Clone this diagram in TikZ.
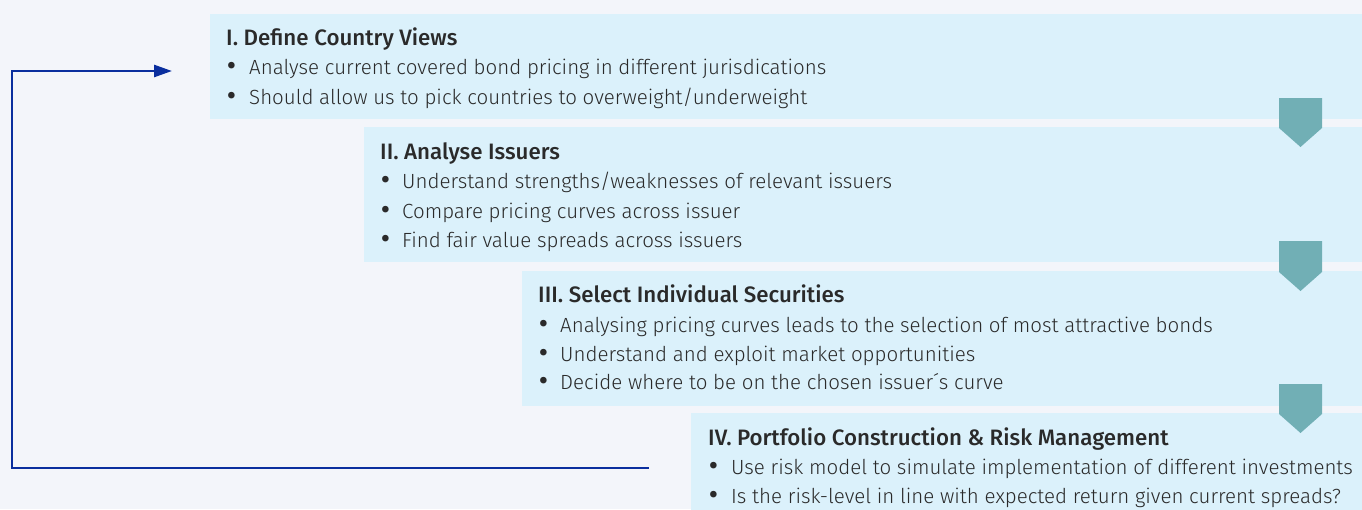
\documentclass[tikz,border=0pt]{standalone}
\usepackage{fontspec}
\IfFontExistsTF{Fira Sans Light}{%
  \setmainfont{Fira Sans Light}[BoldFont={Fira Sans Medium}]%
}{%
  \setmainfont{Fira Sans}%
}
\usetikzlibrary{arrows.meta}
\definecolor{bgc}{HTML}{F3F5FA}
\definecolor{boxc}{HTML}{DBF1FB}
\definecolor{tealc}{HTML}{71AFB5}
\definecolor{linec}{HTML}{0A2E9E}
\definecolor{txtc}{HTML}{2A2A2A}
\tikzset{
  stagebox/.style={fill=boxc, draw=none, minimum width=#1, inner sep=0pt, anchor=north west},
  ttl/.style={anchor=base west, inner sep=0pt, font=\fontsize{22.3}{24}\selectfont\bfseries, text=txtc},
  itm/.style={anchor=base west, inner sep=0pt, font=\fontsize{20.5}{22}\selectfont, text=txtc},
  dot/.style={anchor=base, inner sep=0pt, font=\fontsize{26}{28}\selectfont\bfseries, text=txtc},
  pent/.style={fill=tealc, draw=none},
  loopline/.style={draw=linec, line width=2.6pt, -{Triangle[length=18pt,width=12pt]}}
}
\begin{document}
\begin{tikzpicture}[x=1pt,y=-1pt]
\useasboundingbox (0,0) rectangle (1362,509);
\fill[bgc] (0,0) rectangle (1362,509);
% boxes
\node[stagebox=1152, minimum height=105] (b1) at (210,14) {};
\node[stagebox=998, minimum height=135] (b2) at (364,127) {};
\node[stagebox=840, minimum height=135] (b3) at (522,271) {};
\node[stagebox=671, minimum height=100] (b4) at (691,413) {};
% down arrows
\fill[pent] (1279,98) -- (1322,98) -- (1322,128) -- (1300.5,147) -- (1279,128) -- cycle;
\fill[pent] (1279,241) -- (1322,241) -- (1322,272) -- (1300.5,291) -- (1279,272) -- cycle;
\fill[pent] (1279,384) -- (1322,384) -- (1322,414) -- (1300.5,433) -- (1279,414) -- cycle;
% texts box I
\node[ttl] (t1) at (226,45) {I. Define Country Views};
\node[dot] (d11) at (231.5,74) {•};
\node[itm] (i11) at (249,74) {Analyse current covered bond pricing in different jurisdications};
\node[dot] (d12) at (231.5,104) {•};
\node[itm] (i12) at (249,104) {Should allow us to pick countries to overweight/underweight};
% box II
\node[ttl] (t2) at (380,159) {II. Analyse Issuers};
\node[dot] (d21) at (385.5,188) {•};
\node[itm] (i21) at (402,188) {Understand strengths/weaknesses of relevant issuers};
\node[dot] (d22) at (385.5,218) {•};
\node[itm] (i22) at (402,218) {Compare pricing curves across issuer};
\node[dot] (d23) at (385.5,247) {•};
\node[itm] (i23) at (402,247) {Find fair value spreads across issuers};
% box III
\node[ttl] (t3) at (538,302) {III. Select Individual Securities};
\node[dot] (d31) at (543.5,332) {•};
\node[itm] (i31) at (560,332) {Analysing pricing curves leads to the selection of most attractive bonds};
\node[dot] (d32) at (543.5,361) {•};
\node[itm] (i32) at (560,361) {Understand and exploit market opportunities};
\node[dot] (d33) at (543.5,389) {•};
\node[itm] (i33) at (560,389) {Decide where to be on the chosen issuer\'{}s curve};
% box IV
\node[ttl] (t4) at (708,445) {IV. Portfolio Construction \& Risk Management};
\node[dot] (d41) at (713.5,474) {•};
\node[itm] (i41) at (731,474) {Use risk model to simulate implementation of different investments};
\node[dot] (d42) at (713.5,503) {•};
\node[itm] (i42) at (731,503) {Is the risk-level in line with expected return given current spreads?};
% feedback connector
\coordinate (cs) at (649,468);
\coordinate (ce) at (172,71);
\draw[loopline] (cs) -- (12,468) |- (ce);
\end{tikzpicture}
\end{document}
